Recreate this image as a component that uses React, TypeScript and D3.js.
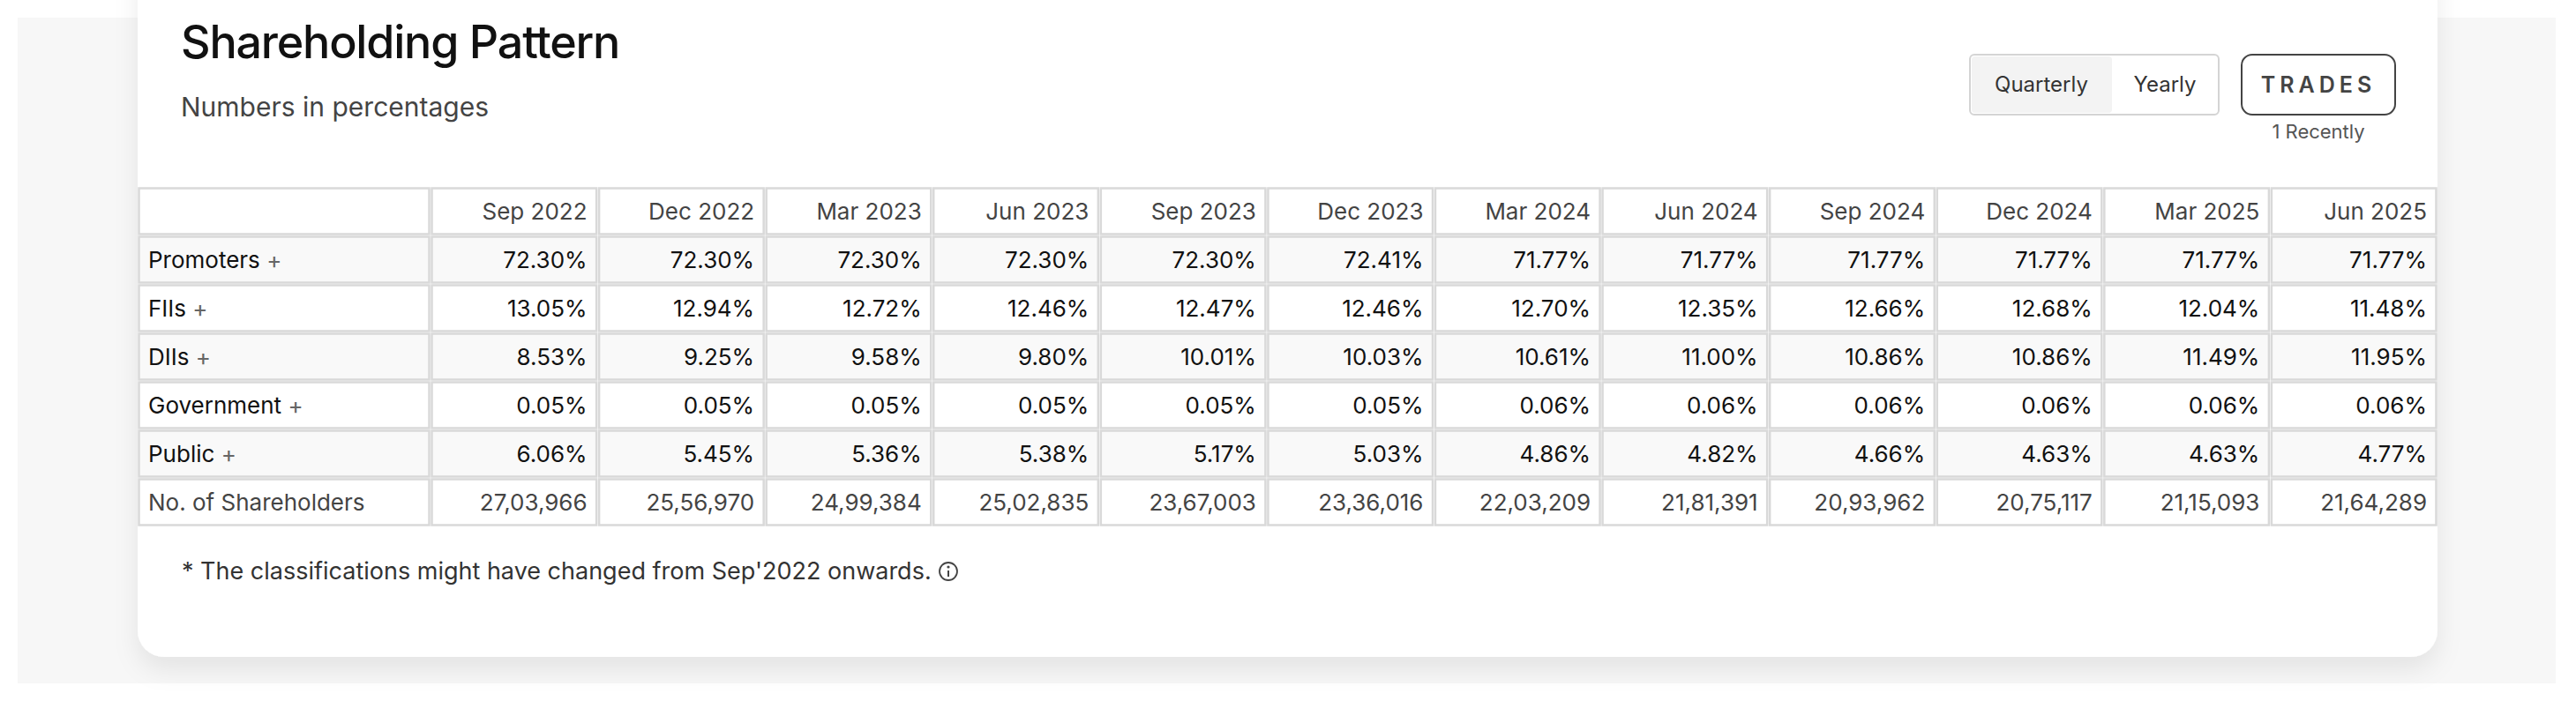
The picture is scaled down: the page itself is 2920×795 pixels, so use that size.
import React from 'react'
import * as d3 from 'd3'

// Quarters shown as table columns
const quarters = ['Sep 2022', 'Dec 2022', 'Mar 2023', 'Jun 2023', 'Sep 2023', 'Dec 2023', 'Mar 2024', 'Jun 2024', 'Sep 2024', 'Dec 2024', 'Mar 2025', 'Jun 2025']

const promoters = [72.3, 72.3, 72.3, 72.3, 72.3, 72.41, 71.77, 71.77, 71.77, 71.77, 71.77, 71.77]
const fiis = [13.05, 12.94, 12.72, 12.46, 12.47, 12.46, 12.7, 12.35, 12.66, 12.68, 12.04, 11.48]
const diis = [8.53, 9.25, 9.58, 9.8, 10.01, 10.03, 10.61, 11.0, 10.86, 10.86, 11.49, 11.95]
const government = [0.05, 0.05, 0.05, 0.05, 0.05, 0.05, 0.06, 0.06, 0.06, 0.06, 0.06, 0.06]
const publicHolding = [6.06, 5.45, 5.36, 5.38, 5.17, 5.03, 4.86, 4.82, 4.66, 4.63, 4.63, 4.77]
const shareholders = ['27,03,966', '25,56,970', '24,99,384', '25,02,835', '23,67,003', '23,36,016', '22,03,209', '21,81,391', '20,93,962', '20,75,117', '21,15,093', '21,64,289']

const rowLabels = ['Promoters', 'FIIs', 'DIIs', 'Government', 'Public', 'No. of Shareholders']

const W = 2920
const H = 795
const FONT = 'Inter, "Liberation Sans", sans-serif'

const App: React.FC = () => {
  const tableLeft = 156
  const labelRight = 488
  const tableRight = 2763
  const tableTop = 212
  const rowH = 55

  const x = d3.scaleBand<string>().domain(quarters).range([labelRight, tableRight])
  const rowKeys = ['header', ...rowLabels]
  const y = d3.scaleBand<string>().domain(rowKeys).range([tableTop, tableTop + rowH * rowKeys.length])

  const fmt = (v: number) => d3.format('.2f')(v) + '%'
  const rows: string[][] = [
    promoters.map(fmt),
    fiis.map(fmt),
    diis.map(fmt),
    government.map(fmt),
    publicHolding.map(fmt),
    shareholders,
  ]

  const cell = (cx: number, cy: number, w: number, h: number, fill: string, key: string) => (
    <rect key={key} x={cx + 1.5} y={cy + 1.5} width={w - 3} height={h - 3} fill={fill} stroke="#d9d9d9" strokeWidth={2.5} />
  )

  const rowFill = (i: number) => (i % 2 === 1 ? '#f9f9f9' : '#ffffff')

  return (
    <svg width={W} height={H} style={{ position: 'absolute', left: 0, top: 0 }} fontFamily={FONT}>
      <defs>
        <filter id="shadow" x="-5%" y="-5%" width="110%" height="120%">
          <feDropShadow dx="0" dy="14" stdDeviation="14" floodColor="#000" floodOpacity="0.08" />
        </filter>
      </defs>
      <rect x={0} y={0} width={W} height={H} fill="#fff" />
      <rect x={20} y={20} width={2877} height={755} fill="#f7f7f7" />
      <rect x={156} y={-60} width={2607} height={805} rx={30} fill="#fff" filter="url(#shadow)" />

      <text x={205} y={66} fontSize={52} fontWeight={500} fill="#111" letterSpacing={-1.2}>Shareholding Pattern</text>
      <text x={205} y={132} fontSize={30} fill="#444">Numbers in percentages</text>

      {/* Quarterly / Yearly toggle */}
      <rect x={2233} y={62} width={282} height={68} rx={5} fill="#fff" stroke="#d4d4d4" strokeWidth={2} />
      <rect x={2235} y={64} width={159} height={64} rx={4} fill="#f3f3f3" />
      <text x={2314} y={104} fontSize={24} textAnchor="middle" fill="#333">Quarterly</text>
      <text x={2454} y={104} fontSize={24} textAnchor="middle" fill="#333">Yearly</text>

      <rect x={2541} y={62} width={174} height={68} rx={12} fill="#fff" stroke="#444" strokeWidth={2} />
      <text x={2628} y={105} fontSize={25} fontWeight={600} textAnchor="middle" fill="#444" letterSpacing={5}>TRADES</text>
      <text x={2628} y={157} fontSize={22} textAnchor="middle" fill="#555">1 Recently</text>

      {/* Table */}
      {rowKeys.map((rk, ri) => {
        const ry = y(rk)!
        const fill = ri === 0 ? '#ffffff' : rowFill(ri)
        return (
          <g key={rk}>
            {cell(tableLeft, ry, labelRight - tableLeft, rowH, fill, rk + '-label')}
            {quarters.map((q) => cell(x(q)!, ry, x.bandwidth(), rowH, fill, rk + q))}
          </g>
        )
      })}

      {quarters.map((q) => (
        <text key={'h' + q} x={x(q)! + x.bandwidth() - 12} y={y('header')! + 37} fontSize={26} textAnchor="end" fill="#444">{q}</text>
      ))}

      {rowLabels.map((label, i) => {
        const ry = y(label)!
        const isCount = label === 'No. of Shareholders'
        return (
          <g key={'r' + label}>
            <text x={tableLeft + 12} y={ry + 37} fontSize={26} fill={isCount ? '#444' : '#111'}>
              {label}
              {!isCount && <tspan fill="#666">{' +'}</tspan>}
            </text>
            {rows[i].map((v, j) => (
              <text key={j} x={x(quarters[j])! + x.bandwidth() - 12} y={ry + 37} fontSize={26} textAnchor="end" fill={isCount ? '#444' : '#111'}>{v}</text>
            ))}
          </g>
        )
      })}

      <text x={206} y={657} fontSize={27} fill="#333">* The classifications might have changed from Sep'2022 onwards.</text>
      <g transform="translate(1075,648)">
        <circle r={10} fill="none" stroke="#444" strokeWidth={1.8} />
        <circle cx={0} cy={-5} r={1.6} fill="#444" />
        <line x1={0} y1={-1} x2={0} y2={6} stroke="#444" strokeWidth={2} />
      </g>
    </svg>
  )
}

export default App
